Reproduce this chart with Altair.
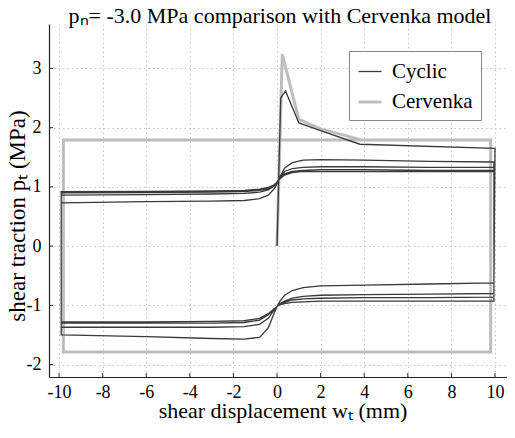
import altair as alt
import pandas as pd

# ---- data ----
init_x = [0.0, 0.17, 0.39, 1.0, 2.0, 3.8, 10.0]
init_y = [0.0, 2.50, 2.62, 2.08, 1.95, 1.72, 1.65]

xs_dn = [9.95, 7, 4, 2, 1.2, 0.7, 0.35, 0.15, 0, -0.15, -0.4, -0.8, -1.5, -3, -6, -9.9]
lower = [
    [-0.62, -0.64, -0.66, -0.67, -0.70, -0.75, -0.83, -0.92, -1.02, -1.15, -1.38, -1.54, -1.57, -1.56, -1.53, -1.50],
    [-0.80, -0.81, -0.82, -0.83, -0.85, -0.88, -0.93, -0.97, -1.02, -1.09, -1.22, -1.32, -1.36, -1.37, -1.37, -1.37],
    [-0.86, -0.87, -0.87, -0.88, -0.89, -0.91, -0.95, -0.98, -1.02, -1.07, -1.16, -1.25, -1.29, -1.30, -1.30, -1.30],
    [-0.93, -0.93, -0.93, -0.93, -0.94, -0.95, -0.97, -0.99, -1.02, -1.06, -1.14, -1.22, -1.26, -1.27, -1.28, -1.28],
]

xs_up = [-9.9, -6, -3, -1.5, -0.8, -0.4, -0.15, 0, 0.15, 0.35, 0.7, 1.2, 2, 4, 7, 9.95]
upper = [
    [0.73, 0.75, 0.76, 0.77, 0.80, 0.86, 0.96, 1.05, 1.18, 1.32, 1.41, 1.45, 1.46, 1.45, 1.43, 1.42],
    [0.86, 0.87, 0.88, 0.89, 0.91, 0.95, 1.01, 1.08, 1.17, 1.26, 1.31, 1.33, 1.34, 1.34, 1.33, 1.33],
    [0.90, 0.905, 0.91, 0.92, 0.94, 0.97, 1.02, 1.08, 1.15, 1.22, 1.26, 1.28, 1.29, 1.29, 1.28, 1.28],
    [0.92, 0.925, 0.93, 0.94, 0.96, 0.99, 1.03, 1.08, 1.14, 1.20, 1.24, 1.26, 1.26, 1.26, 1.26, 1.26],
]

cerv_x = [0.0, 0.24, 1.0, 2.0, 3.9, 9.8, 9.8, -9.8, -9.8, 9.8]
cerv_y = [0.0, 3.24, 2.14, 1.98, 1.79, 1.79, -1.79, -1.79, 1.79, 1.79]

x_ticks = [-10, -8, -6, -4, -2, 0, 2, 4, 6, 8, 10]
y_ticks = [-2, -1, 0, 1, 2, 3]
series_names = ["Cyclic", "Cervenka"]

title_text = "pₙ= -3.0 MPa  comparison with Cervenka model"
x_title = "shear displacement wₜ (mm)"
y_title = "shear traction pₜ (MPa)"

# ---- build tables ----
cx, cy = list(init_x), list(init_y)
for lo, up in zip(lower, upper):
    cx += xs_dn + xs_up
    cy += lo + up
cyc = pd.DataFrame({"x": cx, "y": cy, "series": "Cyclic", "order": range(len(cx))})
cer = pd.DataFrame({"x": cerv_x, "y": cerv_y, "series": "Cervenka", "order": range(len(cerv_x))})

FONT = "Liberation Serif"
W, H = 458, 353
XDOM = [-10.46, 10.55]
YDOM = [-2.21, 3.75]

axis_common = dict(
    grid=True, ticks=False, title=None, labelExpr="datum.value",
    labelFont=FONT, labelFontSize=18, labelColor="black",
    domainColor="#222", domainWidth=1.2,
    gridColor="#c4c4c4", gridDash=[1.5, 3], gridWidth=1,
)

color = alt.Color(
    "series:N",
    scale=alt.Scale(domain=series_names, range=["#3a3a3a", "#bdbdbd"]),
    legend=alt.Legend(
        title=None, orient="none", legendX=300, legendY=27,
        symbolType="stroke", symbolSize=529, symbolStrokeWidth=2,
        labelFont=FONT, labelFontSize=21, labelColor="black", labelOffset=9,
        padding=8, rowPadding=7, strokeColor="#888", fillColor="white",
        labelLimit=300,
    ),
)
sw = alt.StrokeWidth(
    "series:N", scale=alt.Scale(domain=series_names, range=[1.3, 3]), legend=None
)

xscale = alt.Scale(domain=XDOM, nice=False, zero=False)
yscale = alt.Scale(domain=YDOM, nice=False, zero=False)

xenc = alt.X("x:Q", scale=xscale,
             axis=alt.Axis(values=x_ticks, labelPadding=6, **axis_common))
yenc = alt.Y("y:Q", scale=yscale,
             axis=alt.Axis(values=y_ticks, labelPadding=8, **axis_common))

base_cer = alt.Chart(cer).mark_line(clip=True).encode(
    x=xenc, y=yenc, color=color, strokeWidth=sw, order="order:Q"
)
base_cyc = alt.Chart(cyc).mark_line(clip=True).encode(
    x=xenc, y=yenc, color=color, strokeWidth=sw, order="order:Q"
)

# inward tick marks (MATLAB style)
xt_df = pd.DataFrame({"v": x_ticks})
yt_df = pd.DataFrame({"v": y_ticks})
xtick_marks = alt.Chart(xt_df).mark_rule(color="#333", strokeWidth=1).encode(
    x=alt.X("v:Q", scale=xscale), y=alt.value(H), y2=alt.value(H - 4)
)
ytick_marks = alt.Chart(yt_df).mark_rule(color="#333", strokeWidth=1).encode(
    y=alt.Y("v:Q", scale=yscale), x=alt.value(0), x2=alt.value(4)
)

txt = pd.DataFrame({"t": [title_text]})
title_mark = alt.Chart(txt).mark_text(
    font=FONT, fontSize=22, color="black", align="center", baseline="alphabetic"
).encode(text="t:N", x=alt.value(231), y=alt.value(-1))

xt = pd.DataFrame({"t": [x_title]})
xtitle_mark = alt.Chart(xt).mark_text(
    font=FONT, fontSize=22, color="black", align="center", baseline="alphabetic"
).encode(text="t:N", x=alt.value(234), y=alt.value(H + 41))

yt = pd.DataFrame({"t": [y_title]})
ytitle_mark = alt.Chart(yt).mark_text(
    font=FONT, fontSize=23, color="black", align="center", baseline="alphabetic", angle=270
).encode(text="t:N", x=alt.value(-24), y=alt.value(192))

chart = (
    alt.layer(base_cer, base_cyc, xtick_marks, ytick_marks,
              title_mark, xtitle_mark, ytitle_mark)
    .properties(
        width=W, height=H,
        autosize=alt.AutoSizeParams(type="none"),
        padding={"left": 41, "top": 16, "right": 0, "bottom": 46},
    )
    .configure_view(stroke=None)
)

chart.save("out.html", embed_options={"renderer": "svg", "actions": False})
